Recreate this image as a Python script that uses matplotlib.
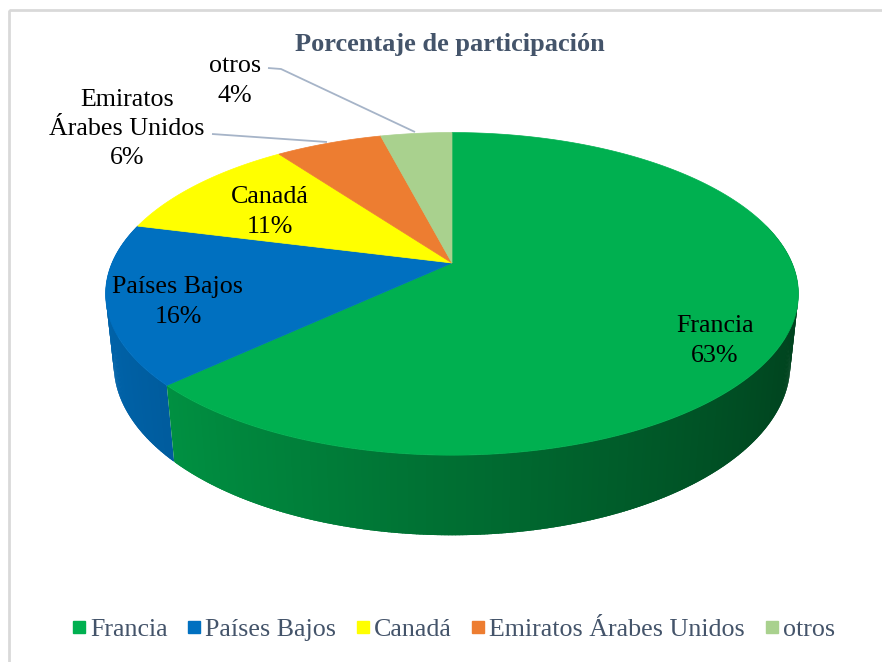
import numpy as np
import matplotlib
matplotlib.use("Agg")
import matplotlib.pyplot as plt
from matplotlib.patches import Polygon, Rectangle
from matplotlib.lines import Line2D
from matplotlib.colors import to_rgb

# ---------------- data ----------------
categories = ["Francia", "Países Bajos", "Canadá", "Emiratos Árabes Unidos", "otros"]
values = [63, 16, 11, 6, 4]
label_names = ["Francia", "Países Bajos", "Canadá", "Emiratos\nÁrabes Unidos", "otros"]
colors = ["#00B050", "#0070C0", "#FFFF00", "#ED7D31", "#A9D18E"]
title = "Porcentaje de participación"

# ---------------- layout (pixels) ----------------
W, Hpx = 882, 662
label_pos = [(715, 341), (178, 302), (270, 212), (127, 129), (235, 81)]
leader_lines = {3: [(212, 134), (327, 142)],
                4: [(268, 68), (281, 69), (415, 132)]}

cx, cy = 452, 263
R = 340
elev = np.deg2rad(27.2)
Dcam = 4.65
Hthk = 0.235

FONT = "Liberation Serif"


def proj(u, v, h):
    yp = v * np.sin(elev) + h * np.cos(elev)
    zp = v * np.cos(elev) - h * np.sin(elev)
    s = Dcam / (Dcam + zp)
    return cx + R * u * s, cy - R * yp * s


def shade(c, f):
    r, g, b = to_rgb(c)
    return (r * f, g * f, b * f)


fig = plt.figure(figsize=(W / 100, Hpx / 100), dpi=100)
ax = fig.add_axes([0, 0, 1, 1])
ax.set_xlim(0, W)
ax.set_ylim(Hpx, 0)
ax.axis("off")

# chart frame
ax.add_patch(Rectangle((9, 10), 900, 700, fill=False, edgecolor="#D9D9D9", lw=2))

total = float(sum(values))
fracs = np.cumsum([0] + values) / total

# ---- side strips (back to front, slightly overlapping to avoid seams) ----
strips = []
for i, c in enumerate(colors):
    a0, a1 = fracs[i], fracs[i + 1]
    n = max(4, int((a1 - a0) * 720))
    ts = np.linspace(a0, a1, n + 1)
    th = np.deg2rad(90 - 360 * ts)
    d = (th[0] - th[1]) * 0.6
    for k in range(n):
        t0, t1 = th[k], th[k + 1]
        if k > 0:
            t0 = t0 + d
        if k < n - 1:
            t1 = t1 - d
        vm = np.sin((t0 + t1) / 2)
        if vm > 0.25:
            continue
        um = np.cos((t0 + t1) / 2)
        f = 0.63 - 0.26 * um
        p = [proj(np.cos(t0), np.sin(t0), 0), proj(np.cos(t1), np.sin(t1), 0),
             proj(np.cos(t1), np.sin(t1), -Hthk), proj(np.cos(t0), np.sin(t0), -Hthk)]
        strips.append((vm, p, shade(c, f)))
strips.sort(key=lambda s: -s[0])
for vm, p, col in strips:
    ax.add_patch(Polygon(p, closed=True, facecolor=col, edgecolor="none", lw=0))

# ---- top faces ----
for i, c in enumerate(colors):
    a0, a1 = fracs[i], fracs[i + 1]
    ts = np.linspace(a0, a1, max(8, int((a1 - a0) * 720)))
    th = np.deg2rad(90 - 360 * ts)
    pts = [proj(0, 0, 0)] + [proj(np.cos(t), np.sin(t), 0) for t in th]
    ax.add_patch(Polygon(pts, closed=True, facecolor=c, edgecolor=c, lw=0.5))

# ---- leader lines ----
for idx, pts in leader_lines.items():
    xs, ys = zip(*pts)
    ax.plot(xs, ys, color="#A6B4C8", lw=1.3, solid_capstyle="butt")

# ---- data labels ----
for name, v, (x, y) in zip(label_names, values, label_pos):
    ax.text(x, y, f"{name}\n{v}%", ha="center", va="center", multialignment="center",
            fontsize=18.7, family=FONT, color="#000000", linespacing=1.42)

# ---- title ----
ax.text(450, 45, title, ha="center", va="center", fontsize=19, fontweight="bold",
        family=FONT, color="#44546A")

# ---- legend ----
handles = [Line2D([], [], marker="s", linestyle="none", markersize=8,
                  markerfacecolor=c, markeredgecolor=c) for c in colors]
fig.legend(handles, categories, loc="center", bbox_to_anchor=(454 / W, 1 - 629 / Hpx),
           ncol=5, frameon=False, handlelength=0.45, handletextpad=0.2,
           columnspacing=0.8, borderaxespad=0,
           prop={"family": FONT, "size": 18.7}, labelcolor="#44546A")

fig.savefig("out.png", dpi=100)
